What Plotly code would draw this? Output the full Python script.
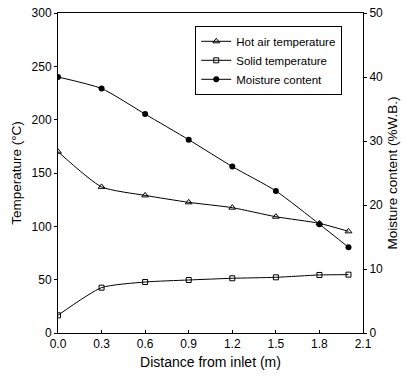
import plotly.graph_objects as go

distance = [0.0, 0.3, 0.6, 0.9, 1.2, 1.5, 1.8, 2.0]
hot_air_temp = [170, 137, 129, 122.5, 117.5, 109, 102.8, 95.3]
solid_temp = [16.6, 42.5, 47.8, 49.7, 51.3, 52.2, 54.4, 54.7]
moisture = [40.0, 38.2, 34.2, 30.2, 26.0, 22.2, 17.0, 13.4]

x_ticks = [0.0, 0.3, 0.6, 0.9, 1.2, 1.5, 1.8, 2.1]
x_tick_text = ["0.0", "0.3", "0.6", "0.9", "1.2", "1.5", "1.8", "2.1"]

font_family = "Liberation Sans, Arial, sans-serif"

fig = go.Figure()
fig.add_trace(go.Scatter(
    x=distance, y=hot_air_temp, name="Hot air temperature",
    mode="lines+markers", line=dict(color="black", width=1, shape="spline", smoothing=0.6),
    marker=dict(symbol="triangle-up-open", size=6, color="black", line=dict(width=1)),
))
fig.add_trace(go.Scatter(
    x=distance, y=solid_temp, name="Solid temperature",
    mode="lines+markers", line=dict(color="black", width=1, shape="spline", smoothing=0.6),
    marker=dict(symbol="square-open", size=5, color="black", line=dict(width=1)),
))
fig.add_trace(go.Scatter(
    x=distance, y=moisture, name="Moisture content", yaxis="y2",
    mode="lines+markers", line=dict(color="black", width=1, shape="spline", smoothing=0.6),
    marker=dict(symbol="circle", size=6, color="black"),
))

fig.update_layout(
    width=403, height=376,
    margin=dict(l=58, r=40, t=13, b=43, autoexpand=False),
    paper_bgcolor="white", plot_bgcolor="white",
    font=dict(family=font_family, size=12, color="black"),
    showlegend=True,
    legend=dict(
        x=0.45, y=0.96, xanchor="left", yanchor="top",
        bgcolor="white", bordercolor="black", borderwidth=1,
        font=dict(size=11.5), tracegroupgap=0, itemwidth=30,
    ),
    xaxis=dict(
        range=[0, 2.1], tickvals=x_ticks, ticktext=x_tick_text,
        showline=True, linecolor="black", linewidth=1, mirror=True,
        ticks="inside", ticklen=3, tickcolor="black",
        showgrid=False, zeroline=False,
        tickfont=dict(size=12),
        title=dict(text="Distance from inlet (m)", font=dict(size=14), standoff=6),
    ),
    yaxis=dict(
        range=[0, 300], tickvals=[0, 50, 100, 150, 200, 250, 300],
        showline=True, linecolor="black", linewidth=1,
        ticks="outside", ticklen=3, tickcolor="black",
        showgrid=False, zeroline=False,
        tickfont=dict(size=12),
        title=dict(text="Temperature (°C)", font=dict(size=13.5), standoff=6),
    ),
    yaxis2=dict(
        range=[0, 50], tickvals=[0, 10, 20, 30, 40, 50],
        overlaying="y", side="right",
        showline=True, linecolor="black", linewidth=1,
        ticks="outside", ticklen=3, tickcolor="black",
        showgrid=False, zeroline=False,
        tickfont=dict(size=12),
        title=dict(text="Moisture content (%W.B.)", font=dict(size=13.5), standoff=5),
    ),
)

fig.write_html(
    "out.html",
    config={"displayModeBar": False},
    post_script="document.body.style.margin='0px';document.body.style.padding='0px';",
)
